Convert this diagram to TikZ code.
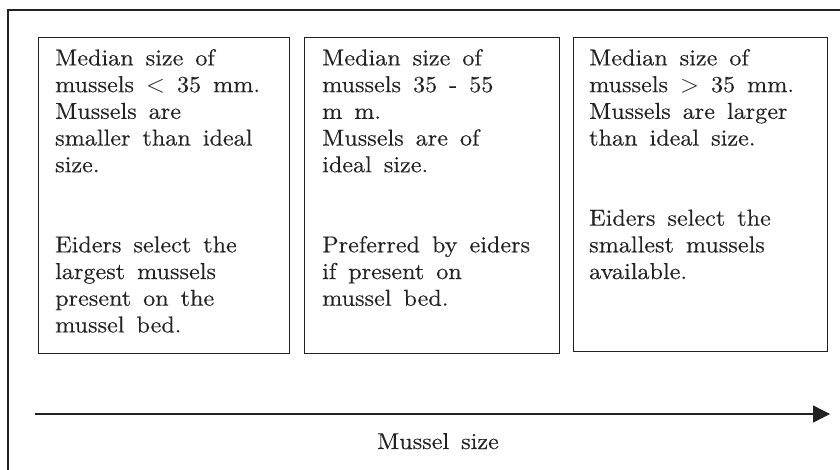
\documentclass[tikz,border=0pt]{standalone}
\usepackage{fontspec}
\usepackage{xcolor,tikz}
\usetikzlibrary{arrows.meta,positioning}
\newfontfamily\panelfont{lmroman10-regular.otf}[FakeStretch=1.05,FakeBold=0.3]
\newcommand\paneltext{\panelfont\fontsize{23}{26.7}\selectfont\spaceskip 12pt\relax}
\definecolor{ink}{HTML}{222222}
\tikzset{panel/.style={draw=ink,line width=1.1pt,anchor=north west,minimum width=251pt,minimum height=316pt,inner sep=0pt},txt/.style={anchor=north west,align=left,text=ink,font=\paneltext,inner sep=0pt},axis/.style={-{Triangle[length=17pt,width=17pt]},line width=1.4pt,draw=ink}}

\begin{document}
\begin{tikzpicture}[x=1pt,y=-1pt]
\useasboundingbox (0,0) rectangle (840,469);
\clip (0,0) rectangle (840,469);
\draw[ink,line width=1.4pt] (8,10) rectangle (850,480);
\node[panel] (p1) at (38,37) {};
\node[panel,minimum width=255pt] (p2) at (304,37) {};
\node[panel,minimum width=254pt,minimum height=314pt] (p3) at (573,37) {};
\node[txt] (t1) at ([xshift=17pt,yshift=-12pt]p1.north west) {Median size of\\mussels $<$ 35 mm.\\Mussels are\\smaller than ideal\\size.\\[2\baselineskip]Eiders select the\\largest mussels\\present on the\\mussel bed.};
\node[txt] (t2) at ([xshift=18pt,yshift=-12pt]p2.north west) {Median size of\\mussels 35 - 55\\m m.\\Mussels are of\\ideal size.\\[2\baselineskip]Preferred by eiders\\if present on\\mussel bed.};
\node[txt] (t3) at ([xshift=16pt,yshift=-12pt]p3.north west) {Median size of\\mussels $>$ 35 mm.\\Mussels are larger\\than ideal size.\\[2\baselineskip]Eiders select the\\smallest mussels\\available.};
\coordinate (a0) at (35,414);\coordinate (a1) at (830,414);
\draw[axis] (a0)--(a1);
\node[txt,anchor=base] (lab) at (438,449) {Mussel size};
\end{tikzpicture}
\end{document}
